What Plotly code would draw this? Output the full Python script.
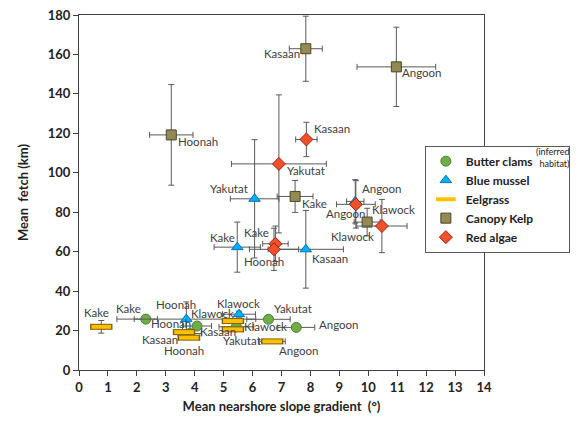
import plotly.graph_objects as go

# ---- data ----
clam_sites = ["Kake", "Hoonah", "Kasaan", "Klawock", "Yakutat", "Angoon"]
clam_x = [2.31, 4.08, 3.83, 5.44, 6.55, 7.51]
clam_y = [25.8, 22.3, 18.5, 21.9, 25.7, 21.6]
clam_xerr = [0.4, 0.5, 0.4, 0.6, 0.75, 0.64]
clam_yerr = [1.0, 1.0, 1.0, 1.0, 1.0, 1.0]

mussel_sites = ["Hoonah", "Klawock", "Kake", "Yakutat", "Kasaan", "Angoon"]
mussel_x = [3.71, 5.53, 5.47, 6.07, 7.84, 9.55]
mussel_y = [25.8, 28.3, 62.3, 86.8, 61.2, 85.5]
mussel_xerr = [2.4, 0.57, 0.8, 0.84, 1.3, 0.3]
mussel_yerr = [8.7, 1.5, 12.7, 30.0, 19.7, 11.0]

eel_sites = ["Kake", "Kasaan", "Hoonah", "Klawock", "Yakutat", "Angoon"]
eel_x = [0.77, 3.63, 3.80, 5.32, 5.32, 6.68]
eel_y = [21.9, 19.2, 16.4, 24.8, 20.6, 14.5]
eel_xerr = [0.1, 0.3, 0.37, 0.3, 0.3, 0.45]
eel_yerr = [3.2, 1.0, 1.0, 1.0, 1.0, 0.5]

kelp_sites = ["Kasaan", "Angoon", "Hoonah", "Kake", "Klawock"]
kelp_x = [7.84, 10.97, 3.19, 7.47, 9.96]
kelp_y = [162.9, 153.7, 119.2, 88.0, 75.0]
kelp_xerr = [0.57, 1.36, 0.75, 0.62, 0.45]
kelp_yerr = [16.5, 20.1, 25.5, 8.1, 7.0]

red_sites = ["Kasaan", "Yakutat", "Kake", "Hoonah", "Angoon", "Klawock"]
red_x = [7.86, 6.91, 6.79, 6.74, 9.57, 10.47]
red_y = [116.9, 104.5, 64.0, 61.2, 84.0, 73.0]
red_xerr = [0.37, 1.64, 0.44, 0.85, 0.67, 0.87]
red_yerr = [8.7, 35.0, 9.0, 10.7, 12.0, 13.5]

x_ticks = list(range(0, 15))
y_ticks = list(range(0, 181, 20))

# ---- label placement (anchor side, x offset px, y offset px) ----
clam_lbl = [("right", -3, 11), ("right", -4, 3), ("left", 8, 2), ("left", 6, 0), ("left", 4, 11), ("left", 21, 3)]
mussel_lbl = [("center", -10, 15), ("center", 0, 11), ("right", 0, 10), ("right", -5, 10), ("left", 4, -9), ("left", 5, 13)]
eel_lbl = [("center", -5, 14), ("right", -4, -7), ("center", -5, -13), ("right", 3, 8), ("center", 9, -11), ("left", 5, -9)]
kelp_lbl = [("right", -4, -5), ("left", 4, -6), ("left", 5, -7), ("left", 5, -7), ("right", 9, -14)]
red_lbl = [("left", 6, 11), ("left", 6, -7), ("right", -4, 11), ("center", -10, -12), ("center", -10, -9), ("center", 12, 17)]

FONT = "Lato"
ERR_COL = "#595959"
LBL = dict(family=FONT, size=11.5, color="#404040")


def err(vals):
    return dict(type="data", array=vals, visible=True, color=ERR_COL, thickness=1, width=3)


fig = go.Figure()

fig.add_trace(go.Scatter(
    x=clam_x, y=clam_y, mode="markers",
    name="<b>Butter clams</b>" + "&nbsp;" * 10,
    error_x=err(clam_xerr), error_y=err(clam_yerr),
    marker=dict(symbol="circle", size=10, color="#70ad47", line=dict(color="#507e32", width=1)),
))
fig.add_trace(go.Scatter(
    x=mussel_x, y=mussel_y, mode="markers", name="<b>Blue mussel</b>",
    error_x=err(mussel_xerr), error_y=err(mussel_yerr),
    marker=dict(symbol="triangle-up", size=10, color="#00b0f0", line=dict(color="#0070c0", width=1)),
))
fig.add_trace(go.Scatter(
    x=eel_x, y=eel_y, mode="markers", showlegend=False, hoverinfo="skip",
    error_x=err(eel_xerr), error_y=err(eel_yerr),
    marker=dict(symbol="line-ew", size=16, line=dict(color="#7f6000", width=6)),
))
fig.add_trace(go.Scatter(
    x=eel_x, y=eel_y, mode="markers", name="<b>Eelgrass</b>",
    marker=dict(symbol="line-ew", size=14, line=dict(color="#ffc000", width=4)),
))
fig.add_trace(go.Scatter(
    x=kelp_x, y=kelp_y, mode="markers", name="<b>Canopy Kelp</b>",
    error_x=err(kelp_xerr), error_y=err(kelp_yerr),
    marker=dict(symbol="square", size=10, color="#948a54", line=dict(color="#4a4527", width=1)),
))
fig.add_trace(go.Scatter(
    x=red_x, y=red_y, mode="markers", name="<b>Red algae</b>",
    error_x=err(red_xerr), error_y=err(red_yerr),
    marker=dict(symbol="diamond", size=10, color="#f0502a", line=dict(color="#a02010", width=1)),
))

annotations = []
for sites, xs, ys, specs in [
    (clam_sites, clam_x, clam_y, clam_lbl),
    (mussel_sites, mussel_x, mussel_y, mussel_lbl),
    (eel_sites, eel_x, eel_y, eel_lbl),
    (kelp_sites, kelp_x, kelp_y, kelp_lbl),
    (red_sites, red_x, red_y, red_lbl),
]:
    for s, xv, yv, (anc, dx, dy) in zip(sites, xs, ys, specs):
        annotations.append(dict(
            text=s, x=xv, y=yv, xref="x", yref="y", showarrow=False,
            xanchor=anc, yanchor="middle", xshift=dx, yshift=dy, font=LBL,
        ))

annotations.append(dict(text="(inferred<br>habitat)", xref="paper", yref="paper",
                        x=1.215, y=0.598, xanchor="right", yanchor="middle",
                        showarrow=False, align="right",
                        font=dict(family=FONT, size=9, color="#222222")))

axis_common = dict(
    showline=True, linecolor="#404040", linewidth=1, mirror=True,
    ticks="outside", ticklen=5, tickcolor="#404040",
    showgrid=False, zeroline=False, automargin=False,
    ticklabeloverflow="allow",
    tickfont=dict(family=FONT, size=13, color="#222222", weight="bold"),
)

# page body has an 8px margin, so the figure is 8px smaller than the window
fig.update_layout(
    width=571, height=413,
    margin=dict(l=71, r=95, t=7, b=51),
    paper_bgcolor="white", plot_bgcolor="white",
    font=dict(family=FONT),
    xaxis=dict(range=[0, 14], tickvals=x_ticks, **axis_common,
               title=dict(text="<b>Mean nearshore slope gradient  (°)</b>",
                          font=dict(family=FONT, size=13, color="#222222"), standoff=8)),
    yaxis=dict(range=[0, 180], tickvals=y_ticks, **axis_common,
               title=dict(text="<b>Mean  fetch (km)</b>",
                          font=dict(family=FONT, size=13, color="#222222"), standoff=16)),
    legend=dict(x=0.854, y=0.632, xanchor="left", yanchor="top",
                bgcolor="white", bordercolor="#595959", borderwidth=1,
                font=dict(family=FONT, size=12, color="#222222"),
                itemwidth=30, tracegroupgap=0, traceorder="normal"),
    annotations=annotations,
)

fig.write_html("out.html")
